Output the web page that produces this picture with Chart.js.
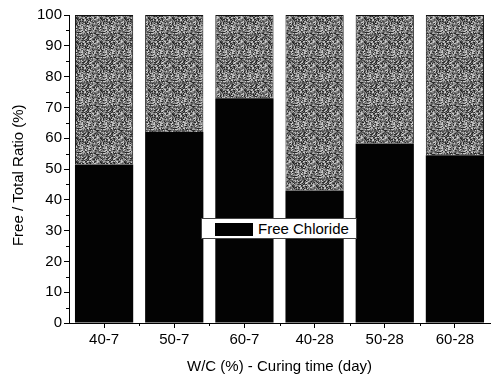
<!DOCTYPE html>
<html lang="en">
<head>
    <meta charset="UTF-8">
    <title>Free / Total Chloride Ratio</title>
    <style>
        html, body { margin: 0; padding: 0; background: #fff; }
        #wrap {
            position: relative;
            width: 491px;
            height: 376px;
            font-family: "Liberation Sans", Arial, sans-serif;
        }
        #legendBox {
            position: absolute;
            left: 201px;
            top: 218px;
            width: 154px;
            height: 19px;
            background: #fff;
            border: 1px solid #444;
        }
        #legendBox .swatch {
            position: absolute;
            left: 13px;
            top: 4px;
            width: 38px;
            height: 13px;
            background: #000;
        }
        #legendBox .label {
            position: absolute;
            left: 56px;
            top: 1px;
            font-size: 15px;
            color: #000;
            white-space: nowrap;
        }
    </style>
</head>
<body>
    <div id="wrap">
        <canvas id="myChart" width="491" height="376"></canvas>
        <div id="legendBox"><span class="swatch"></span><span class="label" id="legendLabel"></span></div>
    </div>

    <script src="https://cdn.jsdelivr.net/npm/chart.js"></script>
    <script>
        // data
        var categories = ['40-7', '50-7', '60-7', '40-28', '50-28', '60-28'];
        var freeChloride = [51.5, 62, 73, 43, 58.3, 54.5];
        var totalRatio = [100, 100, 100, 100, 100, 100];
        var yTicks = [0, 10, 20, 30, 40, 50, 60, 70, 80, 90, 100];

        // the rest of each bar up to 100 %
        var boundPart = totalRatio.map(function (t, i) { return t - freeChloride[i]; });

        // grainy grey fill like the scanned figure (fixed seed, only for texture)
        function makeGrain() {
            var c = document.createElement('canvas');
            c.width = 24; c.height = 24;
            var g = c.getContext('2d');
            var levels = [40, 80, 100, 120, 140, 165, 200];
            var seed = 12345;
            for (var y = 0; y < 24; y++) {
                for (var x = 0; x < 24; x++) {
                    seed = (seed * 1103515245 + 12345) & 0x7fffffff;
                    var v = levels[(seed >> 8) % levels.length];
                    g.fillStyle = 'rgb(' + v + ',' + v + ',' + v + ')';
                    g.fillRect(x, y, 1, 1);
                }
            }
            return g.createPattern(c, 'repeat');
        }

        // minor ticks (every 5 on y, category edges on x)
        var minorTicks = {
            id: 'minorTicks',
            afterDraw: function (chart) {
                var ctx = chart.ctx;
                var ys = chart.scales.y, xs = chart.scales.x;
                ctx.save();
                ctx.strokeStyle = '#000';
                ctx.lineWidth = 1;
                ctx.beginPath();
                for (var v = 5; v < 100; v += 10) {
                    var py = Math.round(ys.getPixelForValue(v)) + 0.5;
                    ctx.moveTo(ys.right - 3, py);
                    ctx.lineTo(ys.right, py);
                }
                var step = (xs.right - xs.left) / categories.length;
                for (var k = 1; k < categories.length; k++) {
                    var px = Math.round(xs.left + k * step) + 0.5;
                    ctx.moveTo(px, xs.top);
                    ctx.lineTo(px, xs.top + 3);
                }
                ctx.stroke();
                ctx.restore();
            }
        };

        document.getElementById('legendLabel').textContent = 'Free Chloride';

        var ctx = document.getElementById('myChart').getContext('2d');
        var myChart = new Chart(ctx, {
            type: 'bar',
            data: {
                labels: categories,
                datasets: [
                    {
                        label: 'Free Chloride',
                        data: freeChloride,
                        backgroundColor: '#030303',
                        borderWidth: 0,
                        barPercentage: 0.83,
                        categoryPercentage: 1
                    },
                    {
                        label: 'Bound Chloride',
                        data: boundPart,
                        backgroundColor: makeGrain(),
                        borderColor: '#111',
                        borderWidth: 1,
                        borderSkipped: 'bottom',
                        barPercentage: 0.83,
                        categoryPercentage: 1
                    }
                ]
            },
            options: {
                responsive: false,
                animation: false,
                layout: { padding: { top: 15, right: 1, left: 0, bottom: 0 } },
                plugins: {
                    legend: { display: false },
                    tooltip: { enabled: false }
                },
                scales: {
                    x: {
                        stacked: true,
                        grid: {
                            drawOnChartArea: false,
                            offset: false,
                            tickLength: 5,
                            tickColor: '#000'
                        },
                        border: { display: true, color: '#000', width: 1 },
                        ticks: {
                            color: '#000',
                            padding: 3,
                            maxRotation: 0,
                            font: { family: 'Liberation Sans', size: 15 }
                        },
                        title: {
                            display: true,
                            text: 'W/C (%) - Curing time (day)',
                            color: '#000',
                            padding: { top: 2, bottom: 0 },
                            font: { family: 'Liberation Sans', size: 15 }
                        },
                        afterFit: function (scale) { scale.height = 53; }
                    },
                    y: {
                        stacked: true,
                        min: 0,
                        max: 100,
                        afterBuildTicks: function (scale) {
                            scale.ticks = yTicks.map(function (v) { return { value: v }; });
                        },
                        grid: {
                            drawOnChartArea: false,
                            tickLength: 5,
                            tickColor: '#000'
                        },
                        border: { display: true, color: '#000', width: 1 },
                        ticks: {
                            color: '#000',
                            padding: 2,
                            font: { family: 'Liberation Sans', size: 15 }
                        },
                        title: {
                            display: true,
                            text: 'Free / Total Ratio (%)   ',
                            color: '#000',
                            padding: { top: 10, bottom: 0 },
                            font: { family: 'Liberation Sans', size: 15 }
                        },
                        afterFit: function (scale) { scale.width = 69; }
                    }
                }
            },
            plugins: [minorTicks]
        });
    </script>
</body>
</html>
